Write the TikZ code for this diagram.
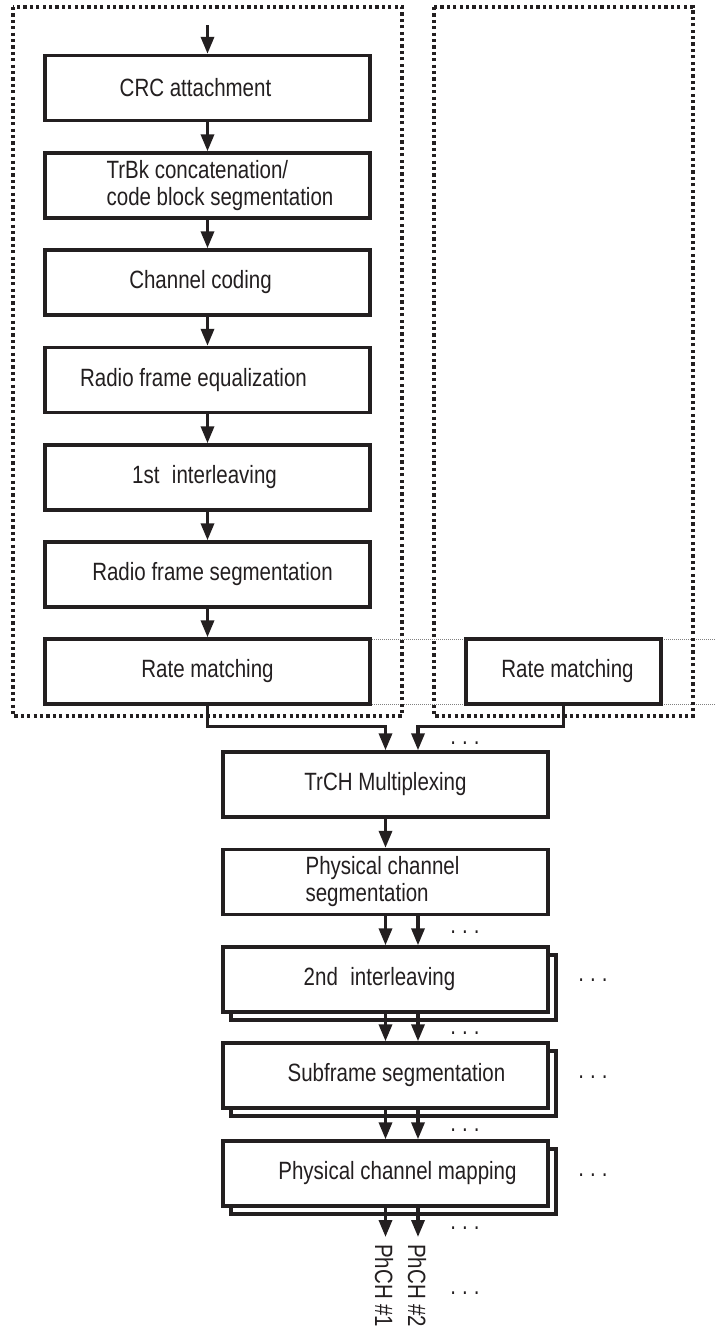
\documentclass[tikz,border=0pt]{standalone}
\usepackage{fontspec}
\setmainfont{Liberation Sans}[FakeStretch=0.82]
\usetikzlibrary{arrows.meta,shadows}
\definecolor{ink}{HTML}{231F20}
\begin{document}
\begin{tikzpicture}[x=1pt,y=-1pt,
  lbl/.style={font=\fontsize{25}{27}\selectfont, text=ink},
  blk/.style={draw=ink, line width=3.4pt, fill=white, minimum width=325pt,
    minimum height=65pt, inner sep=0pt, lbl},
  stack/.style={blk, copy shadow={shadow xshift=8pt, shadow yshift=-8pt}},
  arr/.style={draw=ink, line width=3.4pt, -{Triangle[length=17pt,width=13pt]}},
  dotframe/.style={draw=ink, line width=3.4pt, dash pattern=on 3.2pt off 3.2pt},
  guide/.style={draw=gray, line width=0.8pt, dash pattern=on 1pt off 1pt},
  dots/.style={inner sep=0pt, text=ink, font=\fontsize{25}{27}\selectfont}
]
\useasboundingbox (0,0) rectangle (715,1326);
% guide lines
\draw[guide] (370,639) -- (715,639);
\draw[guide] (370,704) -- (715,704);
% dotted frames
\draw[dotframe] (13,7) rectangle (402,716);
\draw[dotframe] (434,7) rectangle (693,716);
% left column
\node[blk] (crc) at (207.5,88) {\hspace*{-24pt}CRC attachment};
\node[blk, align=left] (trbk) at (207.5,185.5) {\hspace*{25pt}TrBk concatenation/\\\hspace*{25pt}code block segmentation};
\node[blk] (cc) at (207.5,282.5) {\hspace*{-14pt}Channel coding};
\node[blk] (rfe) at (207.5,380) {\hspace*{-28pt}Radio frame equalization};
\node[blk] (il1) at (207.5,477.5) {\hspace*{-6pt}1st\hspace{0.5em}interleaving};
\node[blk] (rfs) at (207.5,574.5) {\hspace*{10pt}Radio frame segmentation};
\node[blk] (rm1) at (207.5,671.5) {Rate matching};
% right column
\node[blk, minimum width=195pt] (rm2) at (563.5,671.5) {\hspace*{8pt}Rate matching};
% lower column
\node[blk] (mux) at (385.5,784.5) {TrCH Multiplexing};
\node[blk, align=left] (pcs) at (385.5,882) {\hspace*{-6pt}Physical channel\\\hspace*{-6pt}segmentation};
\node[stack] (il2) at (385.5,979.5) {\hspace*{-12pt}2nd\hspace{0.5em}interleaving};
\node[stack] (sfs) at (385.5,1075.5) {\hspace*{22pt}Subframe segmentation};
\node[stack] (pcm) at (385.5,1173.5) {\hspace*{24pt}Physical channel mapping};
% connectors
\coordinate (in) at (207.5,25);
\draw[arr] (in) -- (crc.north);
\draw[arr] (crc) -- (trbk);
\draw[arr] (trbk) -- (cc);
\draw[arr] (cc) -- (rfe);
\draw[arr] (rfe) -- (il1);
\draw[arr] (il1) -- (rfs);
\draw[arr] (rfs) -- (rm1);
\draw[arr] (rm1.south) |- ([yshift=24pt]mux.north) -- (mux.north);
\draw[arr] (rm2.south) |- ([xshift=32.5pt,yshift=24pt]mux.north) -- ([xshift=32.5pt]mux.north);
\draw[arr] (mux) -- (pcs);
\draw[arr] (pcs.south) -- (il2.north);
\draw[arr] ([xshift=32.5pt]pcs.south) -- ([xshift=32.5pt]il2.north);
\draw[arr] (il2.south) -- (sfs.north);
\draw[arr] ([xshift=32.5pt]il2.south) -- ([xshift=32.5pt]sfs.north);
\draw[arr] (sfs.south) -- (pcm.north);
\draw[arr] ([xshift=32.5pt]sfs.south) -- ([xshift=32.5pt]pcm.north);
\coordinate (o1) at (385.5,1237);
\coordinate (o2) at (418,1237);
\draw[arr] (pcm.south) -- (o1);
\draw[arr] ([xshift=32.5pt]pcm.south) -- (o2);
% output labels
\node[lbl, rotate=-90, anchor=west, inner sep=0pt] (ph1) at (384,1244) {PhCH \#1};
\node[lbl, rotate=-90, anchor=west, inner sep=0pt] (ph2) at (417,1244) {PhCH \#2};
% ellipses
\node[dots] (d0) at (465,743) {.\hspace{6pt}.\hspace{6pt}.};
\node[dots] (d1) at (465,932) {.\hspace{6pt}.\hspace{6pt}.};
\node[dots] (d2) at (465,1033) {.\hspace{6pt}.\hspace{6pt}.};
\node[dots] (d3) at (465,1130) {.\hspace{6pt}.\hspace{6pt}.};
\node[dots] (d4) at (465,1228) {.\hspace{6pt}.\hspace{6pt}.};
\node[dots] (d5) at (465,1293) {.\hspace{6pt}.\hspace{6pt}.};
\node[dots] (r1) at (593,980) {.\hspace{6pt}.\hspace{6pt}.};
\node[dots] (r2) at (593,1077) {.\hspace{6pt}.\hspace{6pt}.};
\node[dots] (r3) at (593,1175) {.\hspace{6pt}.\hspace{6pt}.};
\end{tikzpicture}
\end{document}
